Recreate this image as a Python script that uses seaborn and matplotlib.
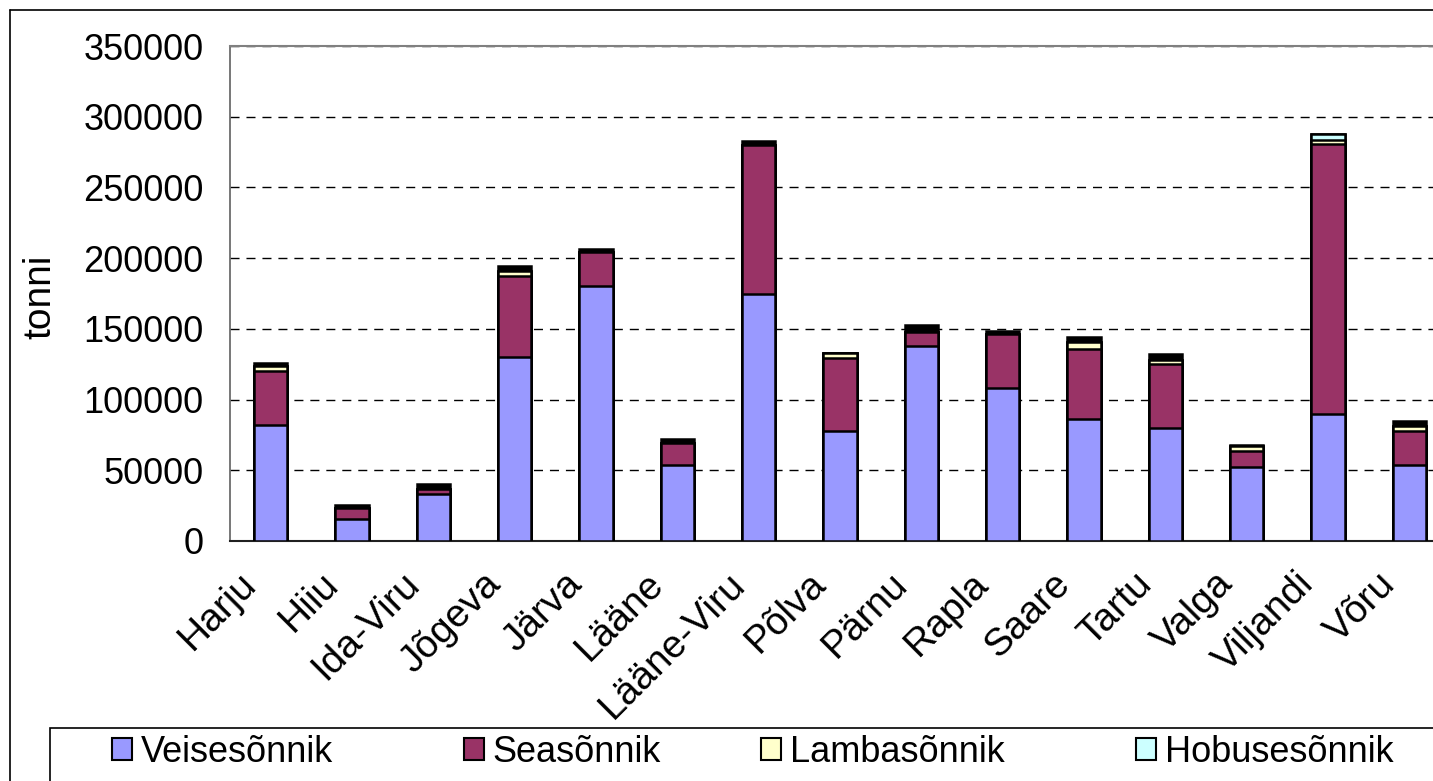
import matplotlib
matplotlib.use("Agg")
import matplotlib.pyplot as plt
from matplotlib.patches import Patch, Rectangle
from matplotlib.lines import Line2D
import seaborn as sns
import pandas as pd
import numpy as np

categories = ["Harju", "Hiiu", "Ida-Viru", "Jõgeva", "Järva", "Lääne", "Lääne-Viru",
              "Põlva", "Pärnu", "Rapla", "Saare", "Tartu", "Valga", "Viljandi", "Võru"]
veisesonnik = [82000, 15500, 33500, 130000, 180000, 54000, 174500, 78000, 138000,
               108000, 86000, 80000, 52000, 90000, 54000]
seasonnik = [38000, 7500, 3500, 57500, 24000, 15500, 105500, 51500, 10000,
             38500, 50000, 45500, 11500, 190500, 24000]
lambasonnik = [3500, 0, 0, 3500, 0, 0, 0, 3500, 0, 0, 5000, 2500, 3500, 3000, 3000]
hobusesonnik = [0, 0, 0, 0, 0, 0, 0, 0, 0, 0, 0, 0, 0, 4000, 0]
muu_sonnik = [2500, 2500, 3000, 3500, 2500, 2500, 2500, 0, 4500, 2000, 3500, 4000, 1000, 0, 3500]

series_names = ["Veisesõnnik", "Seasõnnik", "Lambasõnnik", "Hobusesõnnik", ""]
series_values = [veisesonnik, seasonnik, lambasonnik, hobusesonnik, muu_sonnik]
series_colors = ["#9999FF", "#993366", "#FFFFCC", "#CCFFFF", "#000000"]
y_ticks = [0, 50000, 100000, 150000, 200000, 250000, 300000, 350000]

sns.set_style("white")
plt.rcParams["font.family"] = ["Liberation Sans", "DejaVu Sans"]
plt.rcParams["text.color"] = "black"
plt.rcParams["axes.labelcolor"] = "black"
plt.rcParams["xtick.color"] = "black"
plt.rcParams["ytick.color"] = "black"

W, H = 1433, 781
fig = plt.figure(figsize=(W / 100, H / 100), dpi=100)

# axes placement (pixels -> figure fraction); right edge runs past the picture
left_px, right_px, top_px, bottom_px = 230, 1450, 46, 541
ax = fig.add_axes([left_px / W, 1 - bottom_px / H,
                   (right_px - left_px) / W, (bottom_px - top_px) / H])

cum = np.cumsum(np.array(series_values, dtype=float), axis=0)
for i in range(len(series_values) - 1, -1, -1):
    df = pd.DataFrame({"region": categories, "value": cum[i]})
    sns.barplot(data=df, x="region", y="value", order=categories,
                color=series_colors[i], saturation=1, width=0.41,
                edgecolor="black", linewidth=1.8, ax=ax, zorder=3)

ax.set_xlim(-0.5, len(categories) - 0.5)
ax.set_ylim(0, 350000)
ax.set_yticks(y_ticks)
ax.set_yticklabels([str(v) for v in y_ticks], fontsize=26)

# category labels, rotated 45 degrees, anchored left of each category centre
ax.set_xticks(range(len(categories)))
ax.set_xticklabels([])
for i, name in enumerate(categories):
    ax.annotate(name, xy=(i, 0), xycoords=("data", "axes fraction"),
                xytext=(-14, -27), textcoords="offset points",
                fontsize=28, rotation=45, ha="right", va="center",
                rotation_mode="anchor", annotation_clip=False)

ax.set_xticks(np.arange(-0.5, len(categories), 1.0), minor=True)
ax.tick_params(axis="x", which="major", length=0)
ax.tick_params(axis="x", which="minor", length=7, direction="out",
               color="#606060", width=1)
ax.tick_params(axis="y", which="major", length=14, direction="inout",
               color="#606060", width=1, pad=12)
ax.set_xlabel("")
ax.set_ylabel("tonni", fontsize=28)
ax.yaxis.set_label_coords((58 - left_px) / (right_px - left_px),
                          (bottom_px - 297) / (bottom_px - top_px))

ax.set_axisbelow(True)
ax.yaxis.grid(True, color="black", linestyle=(0, (6.5, 5)), linewidth=1.0)
ax.xaxis.grid(False)
for side in ["left", "bottom", "top"]:
    ax.spines[side].set_visible(True)
ax.spines["right"].set_visible(False)
ax.spines["left"].set_color("#606060")
ax.spines["left"].set_linewidth(1.2)
ax.spines["bottom"].set_color("#202020")
ax.spines["bottom"].set_linewidth(1.5)
ax.spines["top"].set_color("#808080")
ax.spines["top"].set_linewidth(1.5)

# outer chart border (cut off at right and bottom)
fig.add_artist(Line2D([10 / W, 1.0], [1 - 10 / H, 1 - 10 / H],
                      transform=fig.transFigure, color="black", lw=1.2))
fig.add_artist(Line2D([10 / W, 10 / W], [0, 1 - 10 / H],
                      transform=fig.transFigure, color="black", lw=1.2))

# legend box (cut off)
fig.add_artist(Rectangle((50 / W, -0.05), 1.2, (781 - 728) / H + 0.05,
                         transform=fig.transFigure, facecolor="white",
                         edgecolor="black", lw=1.2, zorder=5))
legend_x = [112, 464, 761, 1136]
for i in range(4):
    h = Patch(facecolor=series_colors[i], edgecolor="black", linewidth=1.5,
              label=series_names[i])
    leg = fig.legend(handles=[h], loc="center left",
                     bbox_to_anchor=(legend_x[i] / W, 1 - 752 / H),
                     frameon=False, fontsize=26, borderpad=0, borderaxespad=0,
                     handlelength=0.55, handleheight=0.55, handletextpad=0.25)
    leg.set_zorder(6)

fig.savefig("out.png", dpi=100)
